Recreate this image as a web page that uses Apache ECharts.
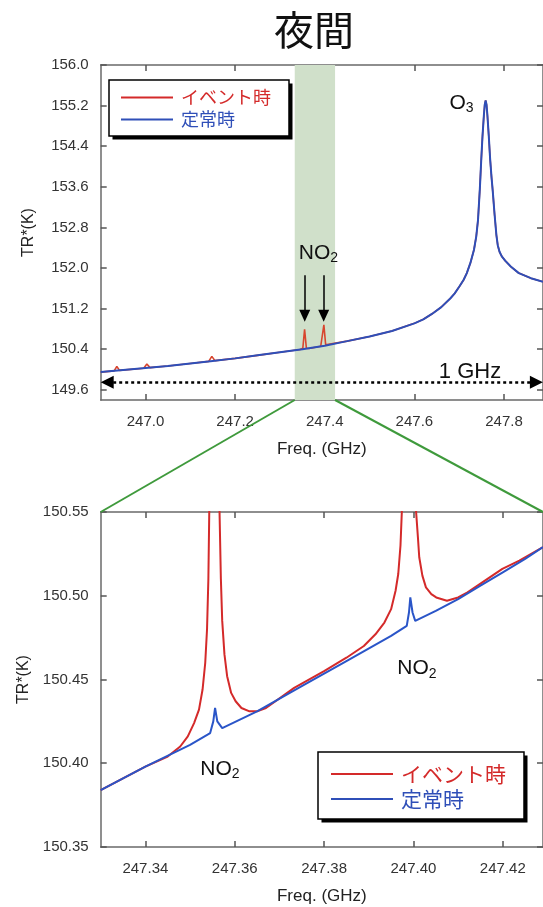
<!DOCTYPE html>
<html lang="ja">
<head>
<meta charset="UTF-8">
<title>夜間</title>
<script src="https://cdn.jsdelivr.net/npm/echarts@6/dist/echarts.min.js"></script>
<style>
  html, body { margin: 0; padding: 0; background: #fff; }
  #chart { width: 543px; height: 907px; }
</style>
</head>
<body>
<div id="chart"></div>
<script>
// タイトルと凡例
var titleText = '夜間';
var eventName = 'イベント時';
var steadyName = '定常時';

// 上段（広帯域）の目盛
var topTicksX = [247.0, 247.2, 247.4, 247.6, 247.8];
var topTicksY = [149.6, 150.4, 151.2, 152.0, 152.8, 153.6, 154.4, 155.2, 156.0];
var topRangeX = [246.9, 247.887];
var topRangeY = [149.4, 156.0];

// 下段（拡大）の目盛
var zoomTicksX = [247.34, 247.36, 247.38, 247.40, 247.42];
var zoomTicksY = [150.35, 150.40, 150.45, 150.50, 150.55];
var zoomRangeX = [247.33, 247.429];
var zoomRangeY = [150.35, 150.55];

// 上段：定常時 (GHz, K)
var topSteady = [
  [246.90, 149.95], [246.95, 149.99], [247.00, 150.03], [247.05, 150.07],
  [247.10, 150.12], [247.15, 150.17], [247.20, 150.22], [247.25, 150.28],
  [247.30, 150.34], [247.35, 150.40], [247.40, 150.47], [247.45, 150.56],
  [247.50, 150.65], [247.55, 150.76], [247.60, 150.91], [247.62, 150.99],
  [247.64, 151.10], [247.66, 151.23], [247.68, 151.40], [247.69, 151.50],
  [247.70, 151.63], [247.71, 151.77], [247.717, 151.90], [247.725, 152.10],
  [247.733, 152.36], [247.738, 152.62], [247.742, 152.95], [247.746, 153.55],
  [247.749, 154.10], [247.752, 154.60], [247.755, 155.00], [247.757, 155.22],
  [247.759, 155.30], [247.761, 155.22], [247.763, 155.00], [247.766, 154.60],
  [247.769, 154.15], [247.772, 153.80], [247.775, 153.50], [247.779, 153.05],
  [247.783, 152.65], [247.786, 152.45], [247.790, 152.32], [247.795, 152.23],
  [247.803, 152.14], [247.815, 152.03], [247.833, 151.90], [247.86, 151.80],
  [247.887, 151.73]
];

// 上段：イベント時（NO2 などの小さなピーク）
var topEventPeaks = [
  [246.900, 149.95], [246.930, 149.974], [246.936, 150.06], [246.942, 149.984],
  [246.996, 150.027], [247.003, 150.11], [247.010, 150.038], [247.050, 150.07],
  [247.100, 150.12], [247.141, 150.161], [247.148, 150.26], [247.155, 150.175],
  [247.200, 150.22], [247.250, 150.28], [247.300, 150.34], [247.345, 150.394],
  [247.351, 150.42], [247.355, 150.79], [247.359, 150.42], [247.365, 150.415],
  [247.391, 150.459], [247.394, 150.49], [247.398, 150.88], [247.402, 150.49],
  [247.406, 150.477]
];

// 下段：定常時
var zoomSteady = [
  [247.330, 150.384], [247.340, 150.398], [247.350, 150.411], [247.3545, 150.418],
  [247.3552, 150.425], [247.3556, 150.433], [247.3561, 150.425], [247.3572, 150.421],
  [247.365, 150.431], [247.375, 150.446], [247.385, 150.461], [247.395, 150.476],
  [247.3985, 150.482], [247.3990, 150.490], [247.3993, 150.499], [247.3998, 150.490],
  [247.4004, 150.485], [247.405, 150.491], [247.410, 150.498], [247.415, 150.506],
  [247.420, 150.514], [247.425, 150.522], [247.429, 150.529]
];

// 下段：イベント時
var zoomEvent = [
  [247.330, 150.384], [247.340, 150.398], [247.345, 150.404], [247.3478, 150.410],
  [247.3495, 150.416], [247.3509, 150.424], [247.3520, 150.432], [247.3528, 150.444],
  [247.3534, 150.460], [247.3538, 150.480], [247.3541, 150.510], [247.3543, 150.55],
  [247.3555, 150.79], [247.3566, 150.55], [247.3569, 150.510], [247.3572, 150.485],
  [247.3577, 150.465], [247.3583, 150.452], [247.3592, 150.442], [247.3602, 150.437],
  [247.3615, 150.433], [247.3633, 150.431], [247.3650, 150.431], [247.3670, 150.433],
  [247.3733, 150.445], [247.3800, 150.455], [247.3850, 150.463], [247.3889, 150.470],
  [247.3915, 150.477], [247.3935, 150.484], [247.3950, 150.492], [247.3960, 150.503],
  [247.3966, 150.513], [247.3971, 150.530], [247.3974, 150.55], [247.3990, 150.88],
  [247.4006, 150.55], [247.4010, 150.535], [247.4013, 150.523], [247.4020, 150.512],
  [247.4028, 150.505], [247.4040, 150.501], [247.4051, 150.499], [247.4075, 150.497],
  [247.4100, 150.499], [247.4121, 150.502], [247.4160, 150.509], [247.4199, 150.516],
  [247.4237, 150.521], [247.429, 150.529]
];

// 注記
var zoomBand = [247.333, 247.423];
var no2ArrowX = [247.3553, 247.3976];
var no2ArrowY = [151.86, 151.06];
var spanArrow = [246.9145, 247.8722, 149.75];
var topLabels = { no2: [247.386, 152.28], o3: [247.705, 155.23], ghz: [247.724, 149.93] };
var zoomLabels = { no2a: [247.3567, 150.396], no2b: [247.4008, 150.456] };

var RED = '#d42a2a';
var BLUE = '#2f4fb8';
var FONT = "'Liberation Sans', 'Noto Sans CJK JP', sans-serif";
var JP = "'Noto Sans CJK JP', sans-serif";

var topEvent = topEventPeaks.concat(topSteady.filter(function (p) { return p[0] >= 247.45; }));

var chart = echarts.init(document.getElementById('chart'));

function subRich(size) {
  return {
    m: { fontSize: size, lineHeight: size + 2, verticalAlign: 'top', fontFamily: FONT, color: '#111' },
    s: { fontSize: 14, lineHeight: 14, padding: [11, 0, 0, 0], verticalAlign: 'bottom', fontFamily: FONT, color: '#111' }
  };
}

function textPoint(coord, text, size) {
  return {
    coord: coord, symbol: 'circle', symbolSize: 1,
    itemStyle: { color: 'rgba(0,0,0,0)' },
    label: { show: true, position: 'inside', formatter: text, rich: subRich(size), fontSize: size, fontFamily: FONT, color: '#111' }
  };
}

function xAxisPair(grid, range, ticks, digits) {
  var base = {
    type: 'value', gridIndex: grid, min: range[0], max: range[1],
    splitLine: { show: false },
    axisLine: { show: true, onZero: false, lineStyle: { color: '#6a6a6a', width: 1.5 } },
    axisTick: { show: true, inside: true, length: 6, customValues: ticks, lineStyle: { color: '#555', width: 1.5 } }
  };
  var bottom = echarts.util.merge({
    position: 'bottom',
    name: 'Freq. (GHz)', nameLocation: 'middle', nameGap: 41,
    nameTextStyle: { fontSize: 17, color: '#222', fontFamily: FONT },
    axisLabel: { customValues: ticks, margin: 14, fontSize: 15, color: '#333', fontFamily: FONT,
      formatter: function (v) { return v.toFixed(digits); } }
  }, base, true);
  var top = echarts.util.merge({ position: 'top', axisLabel: { show: false } }, echarts.util.clone(base), true);
  return [bottom, top];
}

function yAxisPair(grid, range, ticks, digits) {
  var base = {
    type: 'value', gridIndex: grid, min: range[0], max: range[1],
    splitLine: { show: false },
    axisLine: { show: true, onZero: false, lineStyle: { color: '#6a6a6a', width: 1.5 } },
    axisTick: { show: true, inside: true, length: 6, customValues: ticks, lineStyle: { color: '#555', width: 1.5 } }
  };
  var left = echarts.util.merge({
    position: 'left',
    name: 'TR*(K)', nameLocation: 'middle', nameGap: 64, nameRotate: 90,
    nameTextStyle: { fontSize: 16, color: '#222', fontFamily: FONT },
    axisLabel: { customValues: ticks, margin: 12, fontSize: 15, color: '#333', fontFamily: FONT,
      formatter: function (v) { return v.toFixed(digits); } }
  }, base, true);
  var right = echarts.util.merge({ position: 'right', axisLabel: { show: false } }, echarts.util.clone(base), true);
  return [left, right];
}

// 凡例：影の層と枠の層を重ねて描く
function legendBox(left, top, size, lineW, pad, gap, shadow) {
  return {
    orient: 'vertical', left: left, top: top, z: shadow ? 5 : 6,
    backgroundColor: '#fff',
    borderColor: '#000', borderWidth: shadow ? 0 : 1.5,
    shadowColor: shadow ? '#000' : 'rgba(0,0,0,0)', shadowBlur: 0,
    shadowOffsetX: shadow ? 3.5 : 0, shadowOffsetY: shadow ? 3.5 : 0,
    padding: pad, itemGap: gap, itemWidth: lineW, itemHeight: 2, icon: 'rect',
    selectedMode: false,
    textStyle: { fontSize: size, lineHeight: size + 3, fontFamily: JP, padding: [0, 0, 0, 3] },
    data: [
      { name: eventName, textStyle: { color: RED } },
      { name: steadyName, textStyle: { color: BLUE } }
    ]
  };
}

var xs = xAxisPair(0, topRangeX, topTicksX, 1).concat(xAxisPair(1, zoomRangeX, zoomTicksX, 2));
var ys = yAxisPair(0, topRangeY, topTicksY, 1).concat(yAxisPair(1, zoomRangeY, zoomTicksY, 2));

var lineCommon = { type: 'line', symbol: 'none' };

var option = {
  animation: false,
  title: {
    text: titleText, left: 314, top: 10, textAlign: 'center', padding: 0,
    textStyle: { fontSize: 40, fontWeight: 'normal', color: '#111', fontFamily: JP }
  },
  grid: [
    { left: 100.7, top: 65, right: 0, height: 335 },
    { left: 100.7, top: 512, right: 0, height: 335 }
  ],
  xAxis: xs,
  yAxis: ys,
  legend: [
    legendBox(109, 80, 18, 52, [7, 18, 6, 12], 1, true),
    legendBox(109, 80, 18, 52, [7, 18, 6, 12], 1, false),
    legendBox(318, 752, 21, 62, [10, 18, 8, 13], 1, true),
    legendBox(318, 752, 21, 62, [10, 18, 8, 13], 1, false)
  ],
  series: [
    Object.assign({}, lineCommon, {
      name: eventName, xAxisIndex: 0, yAxisIndex: 0, data: topEvent,
      z: 3, lineStyle: { color: '#d8452e', width: 1.6 }, itemStyle: { color: RED },
      markArea: {
        silent: true, z: 1,
        itemStyle: { color: '#d0e0ca' },
        data: [[{ xAxis: zoomBand[0] }, { xAxis: zoomBand[1] }]]
      }
    }),
    Object.assign({}, lineCommon, {
      name: steadyName, xAxisIndex: 0, yAxisIndex: 0, data: topSteady,
      z: 4, lineStyle: { color: BLUE, width: 2 }, itemStyle: { color: BLUE },
      markLine: {
        silent: true, animation: false,
        label: { show: false },
        data: [
          [{ coord: [no2ArrowX[0], no2ArrowY[0]], symbol: 'none' },
           { coord: [no2ArrowX[0], no2ArrowY[1]], symbol: 'triangle', symbolSize: [11, 12] }],
          [{ coord: [no2ArrowX[1], no2ArrowY[0]], symbol: 'none' },
           { coord: [no2ArrowX[1], no2ArrowY[1]], symbol: 'triangle', symbolSize: [11, 12] }],
          [{ coord: [spanArrow[0], spanArrow[2]], symbol: 'triangle', symbolSize: [13, 13],
             lineStyle: { type: [3, 3], width: 2.5, color: '#000' } },
           { coord: [spanArrow[1], spanArrow[2]], symbol: 'triangle', symbolSize: [13, 13] }]
        ],
        lineStyle: { color: '#000', width: 1.5, type: 'solid' },
        emphasis: { disabled: true }
      },
      markPoint: {
        silent: true, animation: false,
        data: [
          textPoint(topLabels.no2, '{m|NO}{s|2}', 21),
          textPoint(topLabels.o3, '{m|O}{s|3}', 21),
          textPoint(topLabels.ghz, '{m|1 GHz}', 22)
        ]
      }
    }),
    Object.assign({}, lineCommon, {
      name: eventName, xAxisIndex: 2, yAxisIndex: 2, data: zoomEvent,
      z: 3, lineStyle: { color: RED, width: 2 }, itemStyle: { color: RED }
    }),
    Object.assign({}, lineCommon, {
      name: steadyName, xAxisIndex: 2, yAxisIndex: 2, data: zoomSteady,
      z: 4, lineStyle: { color: '#2a55c8', width: 2 }, itemStyle: { color: BLUE },
      markPoint: {
        silent: true, animation: false,
        data: [
          textPoint(zoomLabels.no2a, '{m|NO}{s|2}', 21),
          textPoint(zoomLabels.no2b, '{m|NO}{s|2}', 21)
        ]
      }
    })
  ]
};

chart.setOption(option);

// 拡大範囲を示す緑の線（軸の座標から算出）
var bandL = chart.convertToPixel({ seriesIndex: 0 }, [zoomBand[0], topRangeY[0]]);
var bandR = chart.convertToPixel({ seriesIndex: 0 }, [zoomBand[1], topRangeY[0]]);
var zoomL = chart.convertToPixel({ seriesIndex: 2 }, [zoomRangeX[0], zoomRangeY[1]]);
var zoomR = chart.convertToPixel({ seriesIndex: 2 }, [zoomRangeX[1], zoomRangeY[1]]);
chart.setOption({
  graphic: [
    { type: 'line', z: 10, silent: true, shape: { x1: bandL[0], y1: bandL[1], x2: zoomL[0], y2: zoomL[1] },
      style: { stroke: '#3f9a3c', lineWidth: 2 } },
    { type: 'line', z: 10, silent: true, shape: { x1: bandR[0], y1: bandR[1], x2: zoomR[0], y2: zoomR[1] },
      style: { stroke: '#3f9a3c', lineWidth: 2 } }
  ]
});
</script>
</body>
</html>
